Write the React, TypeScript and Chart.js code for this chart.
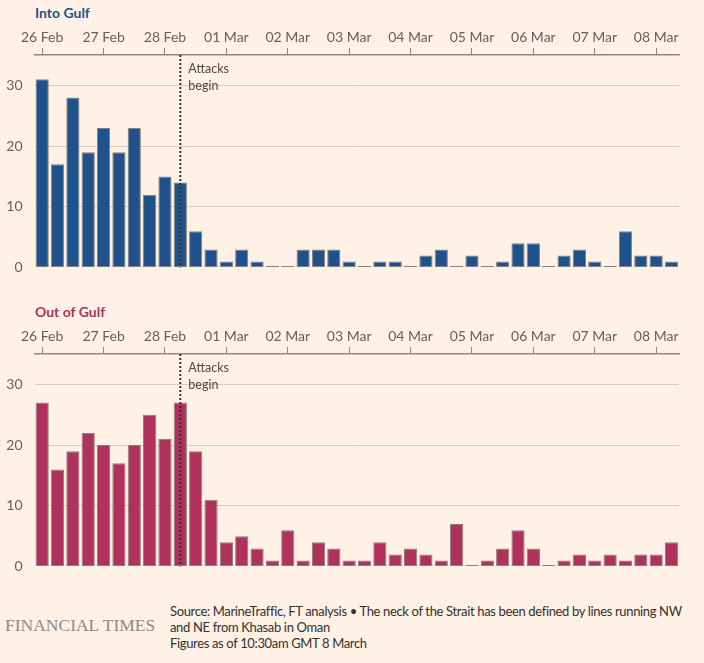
import React, { useEffect, useRef } from "react";
import { Chart, registerables } from "chart.js";

Chart.register(...registerables);

// Días del eje (una marca por día, 4 franjas de 6 h por día)
const days = ["26 Feb", "27 Feb", "28 Feb", "01 Mar", "02 Mar", "03 Mar", "04 Mar", "05 Mar", "06 Mar", "07 Mar", "08 Mar"];
const hours = ["00:00", "06:00", "12:00", "18:00"];
const slotCount = 42;

// Barcos que cruzan el estrecho por franja de 6 h
const intoGulf = [
  31, 17, 28, 19, 23, 19, 23, 12, 15, 14, 6, 3, 1, 3, 1, 0, 0, 3, 3, 3, 1,
  0, 1, 1, 0, 2, 3, 0, 2, 0, 1, 4, 4, 0, 2, 3, 1, 0, 6, 2, 2, 1,
];
const outOfGulf = [
  27, 16, 19, 22, 20, 17, 20, 25, 21, 27, 19, 11, 4, 5, 3, 1, 6, 1, 4, 3, 1,
  1, 4, 2, 3, 2, 1, 7, 0, 1, 3, 6, 3, 0, 1, 2, 1, 2, 1, 2, 2, 4,
];
const yTicks = [0, 10, 20, 30];
const attackSlot = "28 Feb 06:00";

const slots: string[] = [];
days.forEach((d) => hours.forEach((h) => slots.push(`${d} ${h}`)));
const categories = slots.slice(0, slotCount);

const BG = "#fff1e5";
const AXIS = "#8f8780";
const GRID = "#d6cbc1";
const TEXT = "#66605c";
const FONT = "Lato, 'Open Sans', sans-serif";

const attackPlugin = {
  id: "attackLine",
  afterDatasetsDraw(chart: Chart) {
    const { ctx, chartArea } = chart;
    const x = chart.scales.x.getPixelForValue(categories.indexOf(attackSlot));
    ctx.save();
    ctx.strokeStyle = "#33302e";
    ctx.lineWidth = 2;
    ctx.setLineDash([2, 2]);
    ctx.beginPath();
    ctx.moveTo(x, chartArea.top);
    ctx.lineTo(x, chartArea.bottom);
    ctx.stroke();
    ctx.setLineDash([]);
    ctx.fillStyle = "#4d4845";
    ctx.font = `12.5px ${FONT}`;
    ctx.textBaseline = "middle";
    ctx.fillText("Attacks", x + 8, chartArea.top + 14);
    ctx.fillText("begin", x + 8, chartArea.top + 31);
    ctx.restore();
  },
};

interface GulfChartProps {
  title: string;
  color: string;
  values: number[];
  top: number;
  titleTop: number;
}

const GulfChart: React.FC<GulfChartProps> = ({ title, color, values, top, titleTop }) => {
  const chartRef = useRef<HTMLCanvasElement>(null);

  useEffect(() => {
    if (!chartRef.current) return;
    const chart = new Chart(chartRef.current, {
      type: "bar",
      data: {
        labels: categories,
        datasets: [
          {
            data: values,
            backgroundColor: color,
            borderColor: "#8a817b",
            borderWidth: 1,
            borderSkipped: false,
            minBarLength: 1.5,
            barPercentage: 0.86,
            categoryPercentage: 1,
          },
        ],
      },
      options: {
        responsive: false,
        animation: false,
        layout: { padding: { top: 0, right: 24.8, bottom: 17.5, left: 0 } },
        plugins: { legend: { display: false }, tooltip: { enabled: false } },
        scales: {
          x: {
            position: "top",
            offset: true,
            grid: {
              offset: false,
              drawOnChartArea: false,
              drawTicks: true,
              tickLength: 7,
              color: (c: any) => (c.index % 4 === 0 ? AXIS : "transparent"),
            },
            border: { display: true, color: AXIS, width: 1.5 },
            ticks: {
              autoSkip: false,
              maxRotation: 0,
              padding: 2,
              color: TEXT,
              font: { family: FONT, size: 14 },
              callback: (_v: any, i: number) =>
                categories[i].endsWith("00:00") ? categories[i].slice(0, 6) : "",
            },
            afterFit: (s: any) => {
              s.height = 32;
            },
          },
          y: {
            min: 0,
            max: 35,
            afterBuildTicks: (s: any) => {
              s.ticks = yTicks.map((v) => ({ value: v }));
            },
            grid: {
              drawTicks: false,
              color: (c: any) => (c.tick && c.tick.value === 0 ? "transparent" : GRID),
            },
            border: { display: false },
            ticks: { padding: 12, color: TEXT, font: { family: FONT, size: 14 } },
            afterFit: (s: any) => {
              s.width = 34.5;
            },
          },
        },
      },
      plugins: [attackPlugin],
    });
    return () => chart.destroy();
  }, [values, color]);

  return (
    <>
      <div
        style={{
          position: "absolute",
          left: 35,
          top: titleTop,
          color,
          font: `700 14px ${FONT}`,
          lineHeight: "20px",
        }}
      >
        {title}
      </div>
      <canvas
        ref={chartRef}
        width={704}
        height={265}
        style={{ position: "absolute", left: 0, top: top, width: 704, height: 265 }}
      />
    </>
  );
};

export default function App() {
  useEffect(() => {
    document.body.style.margin = "0";
    document.body.style.background = BG;
  }, []);

  return (
    <div style={{ position: "relative", width: 704, height: 663, background: BG, overflow: "hidden" }}>
      <GulfChart title="Into Gulf" color="#1f528b" values={intoGulf} top={23} titleTop={3} />
      <GulfChart title="Out of Gulf" color="#b0315b" values={outOfGulf} top={322} titleTop={302} />
      <div
        style={{
          position: "absolute",
          left: 5,
          top: 613,
          font: "17.5px 'Liberation Serif', serif",
          color: "#8f8984",
          lineHeight: "24px",
          whiteSpace: "nowrap",
        }}
      >
        FINANCIAL TIMES
      </div>
      <div
        style={{
          position: "absolute",
          left: 170,
          top: 603,
          font: `13px ${FONT}`,
          letterSpacing: "-0.35px",
          color: "#33302e",
          lineHeight: "16px",
          whiteSpace: "nowrap",
        }}
      >
        <div>Source: MarineTraffic, FT analysis • The neck of the Strait has been defined by lines running NW</div>
        <div>and NE from Khasab in Oman</div>
        <div>Figures as of 10:30am GMT 8 March</div>
      </div>
    </div>
  );
}
